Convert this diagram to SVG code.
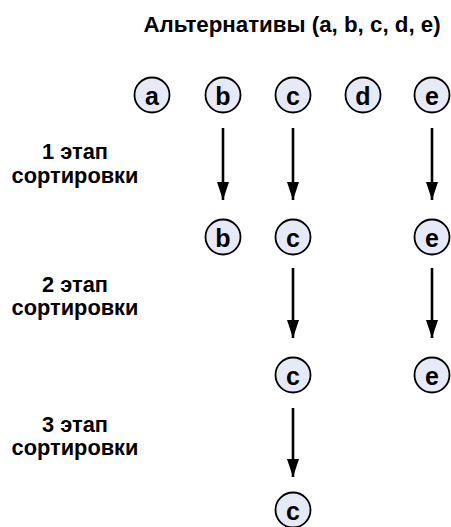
<svg xmlns="http://www.w3.org/2000/svg" width="451" height="527" viewBox="0 0 451 527">
  <style>
    .title { font-family: "Liberation Sans", Arial, sans-serif; font-weight: bold; font-size: 22.3px; fill: #000; }
    .stage { font-family: "Liberation Sans", Arial, sans-serif; font-weight: bold; font-size: 21.8px; fill: #000; text-anchor: middle; }
    .node circle { fill: #e6eaf7; stroke: #000; stroke-width: 1.8; }
    .node text { font-family: "Liberation Sans", Arial, sans-serif; font-weight: bold; font-size: 25px; fill: #000; text-anchor: middle; dominant-baseline: central; }
    .edge { stroke: #000; stroke-width: 2.6; fill: none; marker-end: url(#head); }
  </style>
  <defs>
    <marker id="head" markerUnits="userSpaceOnUse" markerWidth="18" markerHeight="12" refX="18" refY="6" orient="auto" viewBox="0 0 18 12">
      <path d="M0,0 L18,6 L0,12 Z" fill="#000"/>
    </marker>
  </defs>

  <rect width="451" height="527" fill="#fff"/>

  <text class="title" x="292" y="32" text-anchor="middle">Альтернативы (a, b, c, d, e)</text>

  <g id="stage-labels">
    <text class="stage" x="75" y="159">1 этап</text>
    <text class="stage" x="75" y="183">сортировки</text>
    <text class="stage" x="75" y="292">2 этап</text>
    <text class="stage" x="75" y="315">сортировки</text>
    <text class="stage" x="75" y="432">3 этап</text>
    <text class="stage" x="75" y="455">сортировки</text>
  </g>

  <g id="connectors">
    <line class="edge" x1="223" y1="128" x2="223" y2="200"/>
    <line class="edge" x1="293" y1="128" x2="293" y2="200"/>
    <line class="edge" x1="432" y1="128" x2="432" y2="200"/>
    <line class="edge" x1="293" y1="268" x2="293" y2="338"/>
    <line class="edge" x1="432" y1="268" x2="432" y2="338"/>
    <line class="edge" x1="293" y1="408" x2="293" y2="477"/>
  </g>

  <g id="node-a0" class="node"><circle cx="152" cy="95" r="17.5"/><text x="152" y="96">a</text></g>
  <g id="node-b0" class="node"><circle cx="223" cy="95" r="17.5"/><text x="223" y="96">b</text></g>
  <g id="node-c0" class="node"><circle cx="293" cy="95" r="17.5"/><text x="293" y="96">c</text></g>
  <g id="node-d0" class="node"><circle cx="363" cy="95" r="17.5"/><text x="363" y="96">d</text></g>
  <g id="node-e0" class="node"><circle cx="432" cy="95" r="17.5"/><text x="432" y="96">e</text></g>

  <g id="node-b1" class="node"><circle cx="223" cy="237" r="17.5"/><text x="223" y="238">b</text></g>
  <g id="node-c1" class="node"><circle cx="293" cy="237" r="17.5"/><text x="293" y="238">c</text></g>
  <g id="node-e1" class="node"><circle cx="432" cy="237" r="17.5"/><text x="432" y="238">e</text></g>

  <g id="node-c2" class="node"><circle cx="293" cy="375" r="17.5"/><text x="293" y="376">c</text></g>
  <g id="node-e2" class="node"><circle cx="432" cy="375" r="17.5"/><text x="432" y="376">e</text></g>

  <g id="node-c3" class="node"><circle cx="293" cy="510" r="17.5"/><text x="293" y="511">c</text></g>
</svg>
